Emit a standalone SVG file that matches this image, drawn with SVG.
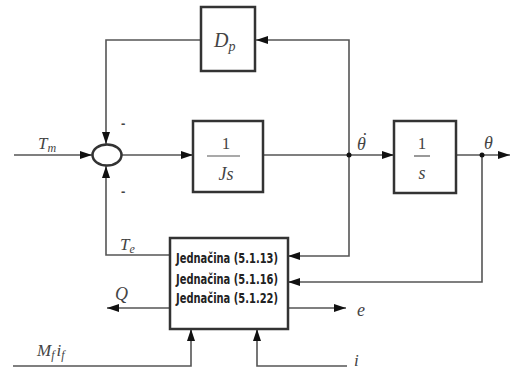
<svg xmlns="http://www.w3.org/2000/svg" width="510" height="372" viewBox="0 0 510 372">
<style>
.box{fill:#fff;stroke:#333;stroke-width:2.5}
.ln{fill:none;stroke:#555;stroke-width:1.6}
.lbl{font-family:"Liberation Serif","Times New Roman",serif;font-style:italic;fill:#444}
.num{font-family:"Liberation Serif","Times New Roman",serif;fill:#444}
.eq{font-family:"DejaVu Sans Condensed","DejaVu Sans",sans-serif;font-weight:bold;font-size:13.5px;fill:#222}
.sg{font-family:"Liberation Sans",sans-serif;font-size:13px;font-weight:bold;fill:#444}
</style>
<defs>
<marker id="ar" viewBox="0 0 12 8" refX="12" refY="4" markerWidth="12" markerHeight="8" markerUnits="userSpaceOnUse" orient="auto">
<path d="M0,0 L12,4 L0,8 z" fill="#111"/>
</marker>
</defs>
<rect width="510" height="372" fill="#fff"/>
<g id="connectors">
<path class="ln" d="M14,155 H92" marker-end="url(#ar)"/>
<path class="ln" d="M201,40 H106 V144" marker-end="url(#ar)"/>
<path class="ln" d="M170,255 H106 V166" marker-end="url(#ar)"/>
<path class="ln" d="M122,155 H193" marker-end="url(#ar)"/>
<path class="ln" d="M263,155 H394" marker-end="url(#ar)"/>
<path class="ln" d="M349,155 V40 H256" marker-end="url(#ar)"/>
<path class="ln" d="M349,155 V256 H288" marker-end="url(#ar)"/>
<path class="ln" d="M456,155 H510" marker-end="url(#ar)"/>
<path class="ln" d="M482,155 V282 H288" marker-end="url(#ar)"/>
<path class="ln" d="M170,308 H107" marker-end="url(#ar)"/>
<path class="ln" d="M288,308 H346" marker-end="url(#ar)"/>
<path class="ln" d="M13,366 H191 V329" marker-end="url(#ar)"/>
<path class="ln" d="M347,366 H257 V329" marker-end="url(#ar)"/>
<circle cx="349" cy="155" r="2.5" fill="#111"/>
<circle cx="482" cy="155" r="2.5" fill="#111"/>
</g>
<g id="sum">
<ellipse cx="107" cy="155" rx="14.5" ry="10.5" fill="#fff" stroke="#333" stroke-width="2.5"/>
<text class="sg" x="121" y="128">-</text>
<text class="sg" x="121" y="196">-</text>
</g>
<g id="dp">
<rect class="box" x="201" y="7" width="54" height="64"/>
<text class="lbl" x="214" y="47" font-size="20">D<tspan font-size="14" dy="4">p</tspan></text>
</g>
<g id="js">
<rect class="box" x="193" y="121" width="70" height="71"/>
<text class="num" x="226" y="149" font-size="17" text-anchor="middle">1</text>
<line x1="207" y1="156" x2="240" y2="156" stroke="#555" stroke-width="1.2"/>
<text class="lbl" x="226" y="180" font-size="18" text-anchor="middle">Js</text>
</g>
<g id="s">
<rect class="box" x="394" y="121" width="62" height="72"/>
<text class="num" x="422" y="149" font-size="17" text-anchor="middle">1</text>
<line x1="414" y1="156" x2="430" y2="156" stroke="#555" stroke-width="1.2"/>
<text class="lbl" x="422" y="179" font-size="18" text-anchor="middle">s</text>
</g>
<g id="eqblock">
<rect class="box" x="170" y="238" width="118" height="91"/>
<text class="eq" x="176" y="263" textLength="102" lengthAdjust="spacingAndGlyphs">Jednačina (5.1.13)</text>
<text class="eq" x="176" y="284" textLength="102" lengthAdjust="spacingAndGlyphs">Jednačina (5.1.16)</text>
<text class="eq" x="176" y="303" textLength="102" lengthAdjust="spacingAndGlyphs">Jednačina (5.1.22)</text>
</g>
<g id="labels">
<text class="lbl" x="357" y="150" font-size="18">θ<tspan dx="-5" dy="-4">˙</tspan></text>
<text class="lbl" x="38" y="149" font-size="17">T<tspan font-size="12" dy="3">m</tspan></text>
<text class="lbl" x="120" y="250" font-size="17">T<tspan font-size="12" dy="3">e</tspan></text>
<text class="lbl" x="484" y="149" font-size="18">θ</text>
<text class="lbl" x="115" y="300" font-size="18">Q</text>
<text class="lbl" x="357" y="316" font-size="18">e</text>
<text class="lbl" x="37" y="356" font-size="17">M<tspan font-size="12" dy="3">f</tspan><tspan dx="2" dy="-3">i</tspan><tspan font-size="12" dy="3">f</tspan></text>
<text class="lbl" x="354" y="366" font-size="17">i</text>
</g>
</svg>
